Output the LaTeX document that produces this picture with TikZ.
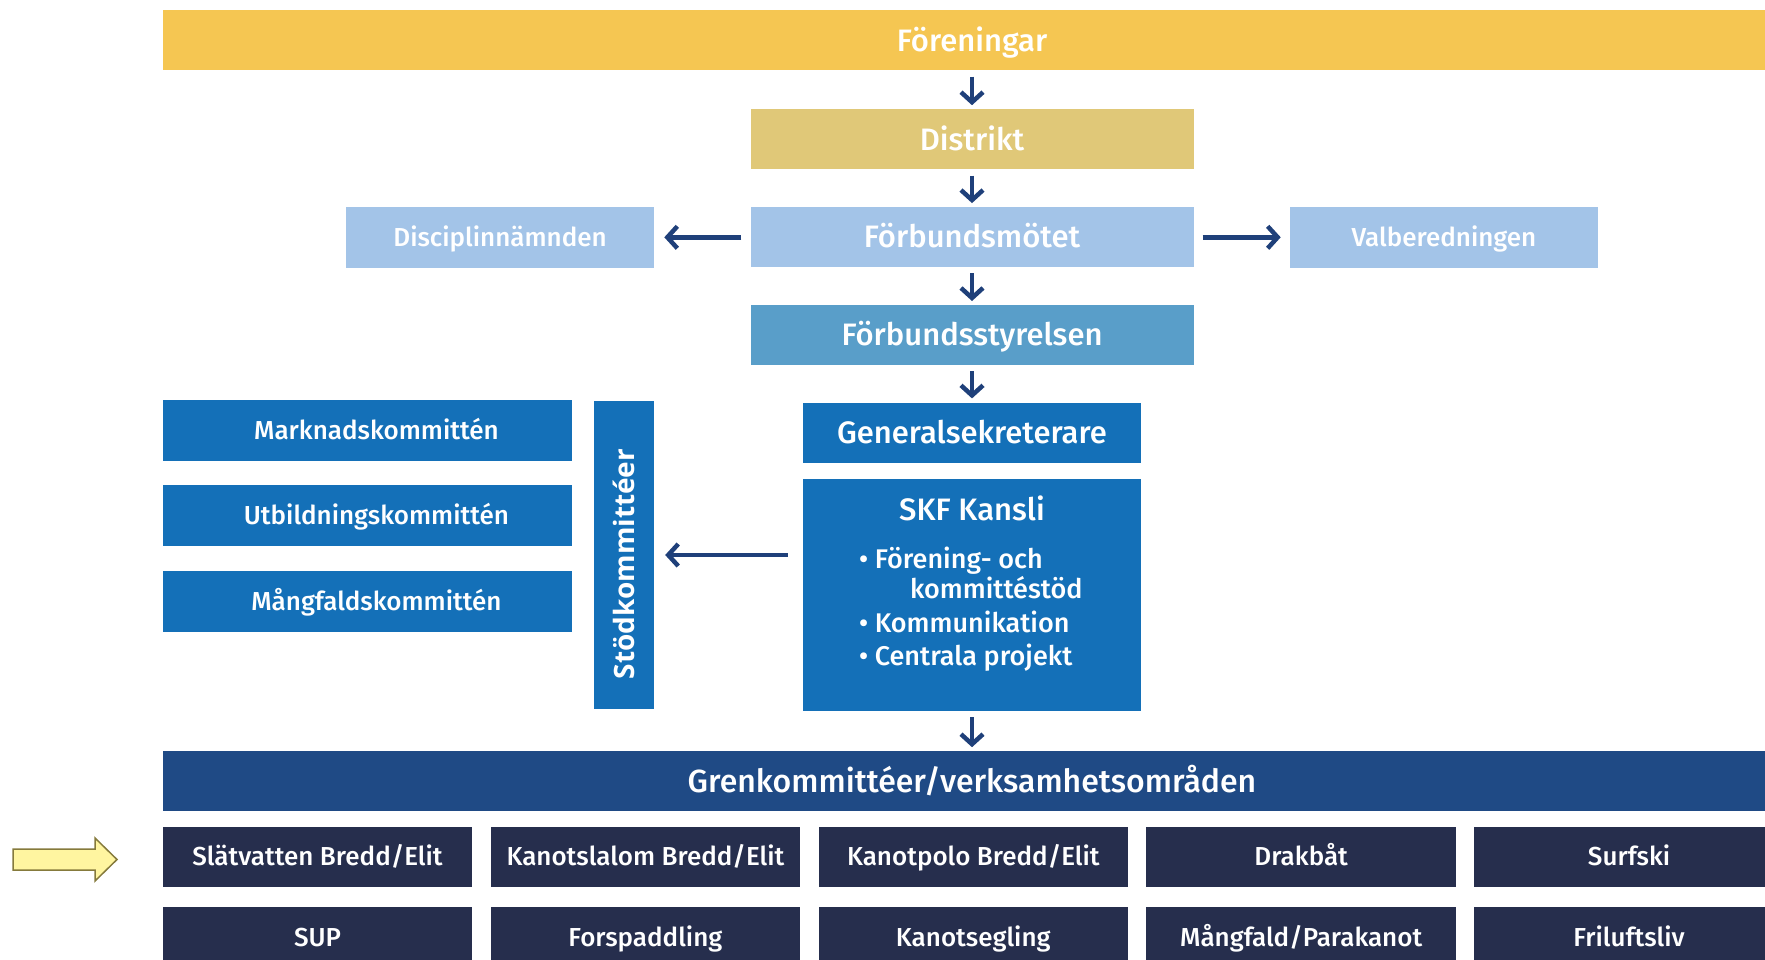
\documentclass[tikz,border=0pt]{standalone}
\usepackage{fontspec}
\setmainfont{Fira Sans}[UprightFont=* Medium]
\newfontfamily\stodfont{Open Sans}
\usepackage{tikz}
\usetikzlibrary{arrows.meta,positioning}

\definecolor{gulfarg}{HTML}{F5C652}
\definecolor{distfarg}{HTML}{E0C878}
\definecolor{ljusbla}{HTML}{A3C4E8}
\definecolor{styrbla}{HTML}{599EC9}
\definecolor{mellanbla}{HTML}{1470B8}
\definecolor{grenbla}{HTML}{1F4A85}
\definecolor{morkbla}{HTML}{262E4D}
\definecolor{pilbla}{HTML}{1F407A}
\definecolor{markgul}{HTML}{FFF5A0}
\definecolor{markkant}{HTML}{857A3C}

\newcommand{\storfont}{\fontsize{31}{36}\selectfont}
\newcommand{\grenfont}{\fontsize{32}{37}\selectfont}
\newcommand{\mellanfont}{\fontsize{26}{31}\selectfont}
\newcommand{\litenfont}{\fontsize{26}{31}\selectfont}
\newcommand{\kanslifont}{\fontsize{27}{33.5}\selectfont}

\begin{document}
\begin{tikzpicture}[x=1pt,y=-1pt,>={Straight Barb[length=10pt,width=22pt]},node distance=37.5pt]
\tikzstyle{orgbox} = [rectangle,inner sep=0pt,minimum height=60pt,text=white,text depth=0pt]
\tikzstyle{topbar} = [orgbox,fill=gulfarg,minimum width=1618pt,font=\storfont,text height=21.4pt]
\tikzstyle{distbox} = [orgbox,fill=distfarg,minimum width=443pt,font=\storfont,text height=21.4pt]
\tikzstyle{motebox} = [orgbox,fill=ljusbla,minimum width=443pt,font=\storfont,text height=21.4pt]
\tikzstyle{sidebox} = [orgbox,fill=ljusbla,minimum width=308pt,minimum height=61pt,font=\litenfont,text height=17.9pt]
\tikzstyle{styrbox} = [orgbox,fill=styrbla,minimum width=443pt,font=\storfont,text height=21.4pt]
\tikzstyle{kansbox} = [orgbox,fill=mellanbla,minimum width=338pt,font=\storfont,text height=21.4pt]
\tikzstyle{kombox} = [orgbox,fill=mellanbla,minimum width=409pt,minimum height=61pt,font=\mellanfont,text height=17.9pt,
    execute at begin node=\hspace*{18pt}]
\tikzstyle{stodbox} = [orgbox,fill=mellanbla,minimum width=308pt,rotate=90,text height=20pt,
    font=\stodfont\bfseries\fontsize{28}{32}\selectfont,execute at end node=\hspace*{18pt}]
\tikzstyle{grenbar} = [orgbox,fill=grenbla,minimum width=1618pt,font=\grenfont,text height=22pt]
\tikzstyle{grenbox} = [orgbox,fill=morkbla,minimum width=309.5pt,font=\mellanfont,text height=17.9pt]
    \useasboundingbox (0,0) rectangle (1765,960);
    \clip (0,0) rectangle (1765,960);

    \node[topbar] (foreningar) at (972,40.5) {Föreningar};
    \node[distbox] (distrikt) [below=38.5pt of foreningar] {Distrikt};
    \node[motebox] (mote) [below=of distrikt] {Förbundsmötet};
    \node[sidebox] (disciplin) [left=96pt of mote] {Disciplinnämnden};
    \node[sidebox] (valberedning) [right=96pt of mote] {Valberedningen};
    \node[styrbox] (styrelse) [below=of mote] {Förbundsstyrelsen};
    \node[kansbox] (general) [below=37pt of styrelse] {Generalsekreterare};
    \node[kansbox,minimum height=232pt] (skf) [below=16pt of general] {};
    \node[text=white,inner sep=0pt,font=\storfont,text height=21.4pt,text depth=0pt] (skftitel)
        [below=20pt of skf.north] {SKF Kansli};
    \node[text=white,inner sep=0pt,font=\kanslifont,align=left,anchor=north west] (skflista)
        at ([xshift=56pt,yshift=-68pt]skf.north west)
        {• Förening- och\\[-3.5pt]\hspace*{51pt}kommittéstöd\\• Kommunikation\\• Centrala projekt};

    \node[stodbox] (stod) at (624,555) {Stödkommittéer};
    \node[kombox] (marknad) at (367.5,430.5) {Marknadskommittén};
    \node[kombox] (utbildning) [below=24pt of marknad] {Utbildningskommittén};
    \node[kombox] (mangfald) [below=24pt of utbildning] {Mångfaldskommittén};

    \node[grenbar] (gren) [below=40pt of skf] {Grenkommittéer/verksamhetsområden};
    \node[grenbox] (slatvatten) at (317.5,857) {Slätvatten Bredd/Elit};
    \node[grenbox] (kanotslalom) [right=18pt of slatvatten] {Kanotslalom Bredd/Elit};
    \node[grenbox] (kanotpolo) [right=18pt of kanotslalom] {Kanotpolo Bredd/Elit};
    \node[grenbox] (drakbat) [right=18pt of kanotpolo] {Drakbåt};
    \node[grenbox] (surfski) [right=18pt of drakbat] {Surfski};
    \node[grenbox] (sup) [below=20pt of slatvatten] {SUP};
    \node[grenbox] (forspaddling) [below=20pt of kanotslalom] {Forspaddling};
    \node[grenbox] (kanotsegling) [below=20pt of kanotpolo] {Kanotsegling};
    \node[grenbox] (parakanot) [below=20pt of drakbat] {Mångfald/Parakanot};
    \node[grenbox] (friluftsliv) [below=20pt of surfski] {Friluftsliv};

    \draw[markkant,fill=markgul,line width=1.5pt] (13,849) -- (95,849) -- (95,838) -- (117,859.5)
        -- (95,881) -- (95,870) -- (13,870) -- cycle;

    \tikzset{pil/.style={->,draw=pilbla,line width=4.5pt,shorten <=6pt,shorten >=4pt}}
    \draw (foreningar) edge [pil] (distrikt);
    \draw (distrikt) edge [pil] (mote);
    \draw (mote) edge [pil,shorten <=9pt,shorten >=10pt] (disciplin);
    \draw (mote) edge [pil,shorten <=9pt,shorten >=9pt] (valberedning);
    \draw (mote) edge [pil] (styrelse);
    \draw (styrelse) edge [pil] (general);
    \draw (skf.west |- stod.south) edge [pil,shorten <=15pt,shorten >=11pt] (stod.south);
    \draw (skf) edge [pil] (gren);
\end{tikzpicture}
\end{document}
